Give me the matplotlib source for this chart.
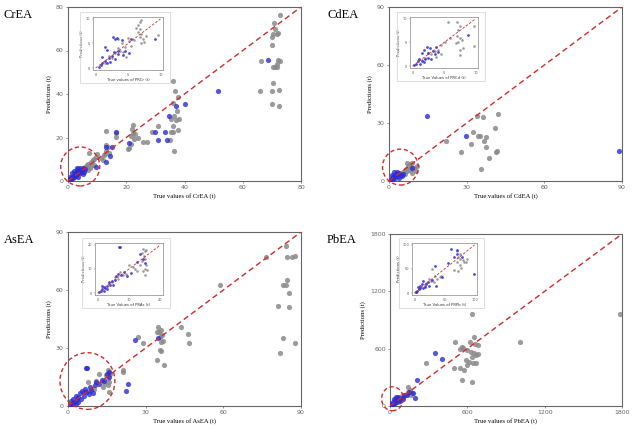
import matplotlib
matplotlib.use("Agg")
import matplotlib.pyplot as plt
from matplotlib.patches import Ellipse, Rectangle
import numpy as np

W, H = 633, 429

# ---- data ----
cr_gray = [(72.8,76.2),(70.8,72.6),(71.2,70.0),(71.8,67.8),(70.5,67.8),(70.2,66.3),(72.2,68.0),(70.1,62.3),
           (66.1,55.4),(72.2,55.7),(72.8,55.4),(71.9,53.7),(71.0,52.2),(70.4,52.2),(71.6,52.2),(70.5,45.0),
           (65.9,41.6),(70.1,41.6),(72.5,41.9),(70.1,35.3),(72.5,34.5),
           (35.9,46.1),(36.7,41.6),(37.8,38.8),(36.0,36.0),(37.5,32.0),(36.5,30.0),(35.5,28.5),(37.0,28.0),
           (38.0,28.3),(36.2,25.5),(35.9,22.7),(35.3,22.7),(37.6,23.5),(35.0,18.9),(36.3,14.0),(30.9,25.3),
           (28.7,22.3),(27.2,18.1),(25.8,18.1),(24.0,19.7),(22.2,25.6),(22.0,24.0),(22.4,22.0),(21.8,20.5),
           (22.6,19.5),(21.5,17.0),(21.0,15.0),(20.5,14.5),(23.0,21.5),(16.6,22.0),(16.6,20.4),(12.9,23.0),
           (13.0,16.5),(13.8,15.5),(13.2,14.0),(12.8,12.5),(12.2,11.8),(14.0,12.8),(11.5,10.8),(12.0,9.5),
           (9.5,11.0),(9.0,10.0),(8.5,9.5),(7.8,8.8),(7.2,12.7),(7.0,8.0),(6.5,7.5),(6.0,6.5),(8.0,7.0),
           (7.5,6.0),(5.5,5.5),(6.8,5.2),(9.0,7.5),(10.0,12.5)]
cr_blue = [(68.8,55.7),(51.6,41.6),(40.1,35.5),(37.2,34.5),(34.7,30.1),(33.2,22.7),(34.0,18.9),(29.8,22.7),
           (30.9,18.9),(21.0,17.3),(16.6,22.3),(13.2,15.8),(14.3,11.7),(13.0,8.9),(15.0,15.5),(9.5,6.3),
           (0.3,0.5),(0.6,0.8),(1.0,1.2),(1.2,0.6),(1.5,2.0),(1.8,1.5),(2.0,2.8),(2.2,1.8),(2.5,3.5),
           (2.8,2.5),(3.0,4.5),(3.2,3.0),(3.5,5.5),(3.8,4.0),(4.0,6.0),(4.2,3.5),(4.5,5.0),(4.8,4.2),
           (5.0,6.2),(5.5,4.0),(3.0,6.2),(2.0,4.5),(1.5,3.5),(6.0,5.5),(0.8,2.0),(5.0,3.0),(3.5,1.8)]

cd_gray = [(42.0,34.5),(33.8,33.7),(36.4,33.0),(40.9,27.3),(32.3,25.6),(34.5,23.5),(35.1,23.5),(37.3,23.0),
           (22.0,20.9),(31.5,19.0),(36.8,20.9),(37.3,17.8),(41.6,15.5),(41.3,15.0),(28.0,15.2),(38.6,12.1),
           (35.4,6.0),(7.0,9.5),(8.0,9.0),(9.0,9.2),(7.5,8.0),(8.5,7.5),(9.5,6.5),(10.5,5.0),(8.0,5.5),
           (7.0,5.0),(6.5,6.0),(9.0,4.0),(5.5,4.5),(6.0,3.5),(11.0,8.0)]
cd_blue = [(14.8,33.7),(89.0,15.5),(29.7,23.3),(8.7,6.9),(0.5,0.5),(1.0,1.5),(1.5,1.0),(2.0,2.5),(2.5,1.5),
           (3.0,3.5),(3.5,2.5),(4.0,4.0),(4.5,3.0),(1.0,3.0),(2.0,4.5),(3.0,4.8),(5.0,2.5),(5.5,3.8),
           (1.5,2.2),(2.5,3.0),(4.0,1.8)]

as_gray = [(84.1,82.9),(76.3,77.0),(84.5,77.0),(86.4,77.0),(87.7,77.4),(84.7,65.3),(82.9,62.7),(84.2,62.7),
           (58.9,62.7),(85.5,58.3),(81.2,51.9),(85.5,51.1),(82.9,35.0),(87.6,32.4),(81.9,27.2),(43.6,40.7),
           (46.2,37.0),(46.8,32.4),(34.8,40.7),(34.4,38.2),(35.2,38.2),(36.1,39.3),(36.3,36.8),(35.4,35.5),
           (36.6,33.8),(36.0,33.0),(35.4,29.2),(36.0,28.4),(34.2,23.9),(37.0,21.0),(27.2,35.5),(28.9,32.4),
           (21.4,18.5),(21.1,17.7),(15.3,18.5),(15.8,17.7),(14.7,16.0),(15.3,14.2),(15.8,12.5),(15.3,10.9),
           (16.0,7.4),(14.0,12.0),(13.5,10.0),(16.2,16.5),(11.9,16.4),(7.7,12.5),(10.0,9.0),(8.0,8.0),
           (6.0,7.0),(11.0,13.0)]
as_blue = [(34.6,35.0),(25.9,34.1),(23.0,11.6),(22.3,7.6),(6.8,19.7),(7.4,19.4),(15.8,17.7),(15.0,16.3),
           (15.9,15.0),(13.0,13.5),(12.0,11.5),(10.5,11.0),(9.0,8.5),(8.0,6.0),(7.0,7.5),(6.0,5.0),(5.5,8.0),
           (4.5,6.5),(4.0,4.5),(3.5,3.0),(3.0,5.0),(2.5,2.0),(2.0,3.5),(1.5,1.0),(1.0,2.5),(0.8,0.5),
           (3.0,1.0),(5.0,3.5),(6.5,9.0),(8.5,10.0),(14.0,13.0),(11.0,12.5),(2.0,0.8),(4.0,2.0),(9.5,6.5)]

pb_gray = [(1787,963),(1010,672),(635,963),(653,725),(505,672),(555,620),(570,605),(540,600),(622,665),
           (660,648),(686,637),(600,590),(625,570),(650,550),(670,530),(640,510),(686,539),(590,480),
           (610,460),(600,430),(645,445),(665,445),(497,400),(544,400),(575,375),(280,452),(562,277),
           (635,252),(143,200),(155,170),(143,150),(130,130),(170,140),(100,90),(90,100),(120,110),
           (160,120),(60,40),(80,70)]
pb_blue = [(350,550),(401,487),(207,277),(194,84),(110,120),(130,110),(150,150),(180,140),(90,80),(70,60),
           (60,80),(50,40),(40,60),(35,30),(25,25),(20,40),(15,10),(10,20),(5,5),(45,90),(80,50),(65,95),
           (100,70),(30,70)]

# inset data
cr_in_gray = [(6.8,9.4),(7.0,9.8),(6.5,8.8),(6.3,8.1),(6.9,7.9),(6.5,7.4),(7.0,7.0),(6.8,6.4),(7.3,6.0),
              (7.5,5.3),(7.0,5.0),(7.8,6.6),(9.6,6.8),(4.7,2.2),(4.2,3.2),(3.5,6.0),(4.0,5.0),(5.2,5.5),
              (5.5,4.5),(3.0,3.0),(3.5,4.0),(2.5,2.0),(2.0,2.5),(5.0,6.2),(4.5,4.2),(6.0,5.8),(1.5,1.0),(3.8,3.5)]
cr_in_blue = [(3.0,6.0),(3.3,6.2),(2.7,6.3),(9.1,6.0),(1.4,4.3),(1.8,3.6),(2.0,2.0),(1.5,1.5),(1.0,1.0),
              (0.5,0.3),(2.5,2.5),(3.0,1.8),(3.5,2.8),(4.2,2.6),(2.2,1.2),(1.0,2.2),(4.0,5.8),(5.5,6.0),
              (1.8,1.0),(3.5,3.5),(4.5,3.5),(0.8,0.6),(2.8,3.2),(5.2,3.0)]
cd_in_gray = [(5.6,9.4),(7.1,9.4),(7.6,8.4),(7.3,7.7),(7.1,6.3),(7.6,5.9),(7.3,5.2),(7.8,5.5),(6.9,4.8),
              (7.5,3.5),(8.0,3.8),(7.6,2.4),(9.8,8.4),(9.8,4.2),(5.1,5.2),(4.5,4.5),(4.0,3.5),(3.5,3.2),
              (3.0,2.5),(2.5,2.8),(2.0,1.8),(3.8,2.0),(1.5,1.2),(4.5,2.5),(6.0,6.0)]
cd_in_blue = [(8.8,6.5),(2.3,4.0),(1.8,3.5),(2.8,3.8),(1.5,2.8),(2.5,2.8),(3.2,3.2),(3.8,4.0),(3.5,2.5),
              (1.0,1.5),(1.5,1.0),(0.5,0.5),(0.8,1.0),(2.0,1.5),(1.2,0.5),(2.5,1.8),(3.0,1.5),(4.0,3.0),
              (0.3,0.2),(1.8,0.8)]
as_in_gray = [(14.5,18.5),(15.0,17.5),(14.0,16.6),(15.5,18.0),(14.8,15.5),(15.2,14.0),(14.0,13.2),
              (15.5,11.5),(15.0,10.0),(15.8,9.5),(14.5,9.0),(15.2,7.5),(13.6,11.6),(12.0,10.0),(11.2,10.8),
              (7.0,8.7),(8.0,7.5),(6.5,6.0),(5.5,6.5),(4.5,4.5),(3.5,4.0),(9.0,8.0),(12.5,9.0),(10.0,11.5)]
as_in_blue = [(6.7,19.3),(7.1,19.3),(13.6,16.3),(12.6,12.8),(8.5,8.7),(7.5,7.5),(6.5,8.0),(6.0,7.0),
              (5.5,5.5),(4.5,5.0),(4.0,3.5),(3.5,4.5),(3.0,3.0),(2.5,2.0),(2.0,2.5),(1.5,1.5),(1.0,0.8),
              (0.5,0.5),(2.0,1.0),(3.0,1.5),(5.0,3.5),(9.5,7.0),(10.5,8.5),(14.5,14.0),(15.0,12.5),(1.5,3.0)]
pb_in_gray = [(70,88),(75,82),(72,75),(76,70),(80,68),(82,65),(70,64),(75,58),(78,52),(65,48),(72,45),
              (85,65),(88,70),(35,36),(38,29),(33,22),(30,50),(42,33),(45,35),(25,30),(20,20),(28,25),(18,15)]
pb_in_blue = [(60,92),(71,90),(70,81),(79,74),(99,40),(35,57),(46.5,33),(36,15),(65,75),(55,62),(15,25),
              (12,18),(10,10),(8,8),(5,5),(3,2),(2,3),(18,12),(20,18),(25,15),(14,10),(6,12),(22,22),(9,15),(30,28)]

panels = [
    # name, elem, lim, ticks, main rect (l,t,r,b px), inset rect, inset lim, inset ticks, circle (cx,cy,w,h)
    ("CrEA", "CrEA", 80, [0, 20, 40, 60, 80], (68, 7, 301, 181), (93, 17, 163, 70), 10, [0, 5, 10],
     (4.2, 6.7, 13.4, 17.9), cr_gray, cr_blue, cr_in_gray, cr_in_blue, "True values of PRCr (t)"),
    ("CdEA", "CdEA", 90, [0, 30, 60, 90], (389, 7, 622, 181), (410, 17, 478, 68), 10, [0, 5, 10],
     (4.4, 7.2, 13.8, 18.6), cd_gray, cd_blue, cd_in_gray, cd_in_blue, "True Values of PRCd (t)"),
    ("AsEA", "AsEA", 90, [0, 30, 60, 90], (68, 232, 301, 406), (95, 243, 163, 295), 20, [0, 10, 20],
     (7.5, 12.9, 21.2, 29.3), as_gray, as_blue, as_in_gray, as_in_blue, "True Values of PRAs (t)"),
    ("PbEA", "PbEA", 1800, [0, 600, 1200, 1800], (390, 234, 622, 406), (412, 243, 477, 295), 100, [0, 50, 100],
     (19, 76, 168, 251), pb_gray, pb_blue, pb_in_gray, pb_in_blue, "True Values of PRPb (t)"),
]
title_pos = [(4, 15), (327, 15), (4, 240), (327, 240)]

GRAY = "#8a8a8a"
BLUE = "#2c2cd4"
RED = "#d42a2a"
SERIF = "Liberation Serif"


def rect(l, t, r, b):
    return [l / W, 1 - b / H, (r - l) / W, (b - t) / H]


fig = plt.figure(figsize=(W / 100, H / 100), dpi=100)

for (name, elem, lim, ticks, mrect, irect, ilim, iticks, circ, g, b, ig, ib, ixlabel), tp in zip(panels, title_pos):
    ax = fig.add_axes(rect(*mrect))
    g = np.array(g); b = np.array(b)
    ax.scatter(g[:, 0], g[:, 1], s=14, color=GRAY, alpha=0.85, linewidths=0, zorder=2)
    ax.scatter(b[:, 0], b[:, 1], s=14, color=BLUE, alpha=0.8, linewidths=0, zorder=3)
    ax.plot([0, lim], [0, lim], ls=(0, (4, 2.5)), color=RED, lw=1, zorder=4)
    ax.add_patch(Ellipse((circ[0], circ[1]), circ[2], circ[3], fill=False, ec=RED, lw=1,
                         ls=(0, (3, 2)), clip_on=False, zorder=5))
    ax.set_xlim(0, lim); ax.set_ylim(0, lim)
    ax.set_xticks(ticks); ax.set_yticks(ticks)
    ax.tick_params(labelsize=4.5, length=1.5, width=0.5, colors="#666666", pad=1.5)
    for s in ax.spines.values():
        s.set_color("#666666"); s.set_linewidth(0.8)
    ax.set_xlabel(f"True values of {elem} (t)", fontsize=4.8, family=SERIF, labelpad=2)
    ax.set_ylabel("Predictions (t)", fontsize=4.8, family=SERIF, labelpad=3)
    fig.text(tp[0] / W, 1 - tp[1] / H, name, fontsize=9, family=SERIF, ha="left", va="center")

    # inset with light frame
    l, t, r, bb = irect
    fig.patches.append(Rectangle(((l - 13) / W, 1 - (bb + 13) / H), (r - l + 20) / W, (bb - t + 18) / H,
                                 transform=fig.transFigure, fill=False, ec="#d0d0d0", lw=0.5))
    ins = fig.add_axes(rect(*irect))
    ig = np.array(ig); ib = np.array(ib)
    ins.scatter(ig[:, 0], ig[:, 1], s=3.5, color=GRAY, alpha=0.85, linewidths=0)
    ins.scatter(ib[:, 0], ib[:, 1], s=4, color=BLUE, alpha=0.85, linewidths=0)
    ins.plot([0, ilim], [0, ilim], ls=(0, (3, 2)), color=RED, lw=0.6)
    ins.set_xlim(-ilim * 0.04, ilim * 1.04); ins.set_ylim(-ilim * 0.04, ilim * 1.04)
    ins.set_xticks(iticks); ins.set_yticks(iticks)
    ins.tick_params(labelsize=2.5, length=1, width=0.3, colors="#555555", pad=1)
    for s in ins.spines.values():
        s.set_color("#888888"); s.set_linewidth(0.5)
    ins.set_xlabel(ixlabel, fontsize=2.7, labelpad=1, color="#333333")
    ins.set_ylabel("Predictions (t)", fontsize=2.7, labelpad=1, color="#333333")

fig.savefig("out.png", dpi=100)
